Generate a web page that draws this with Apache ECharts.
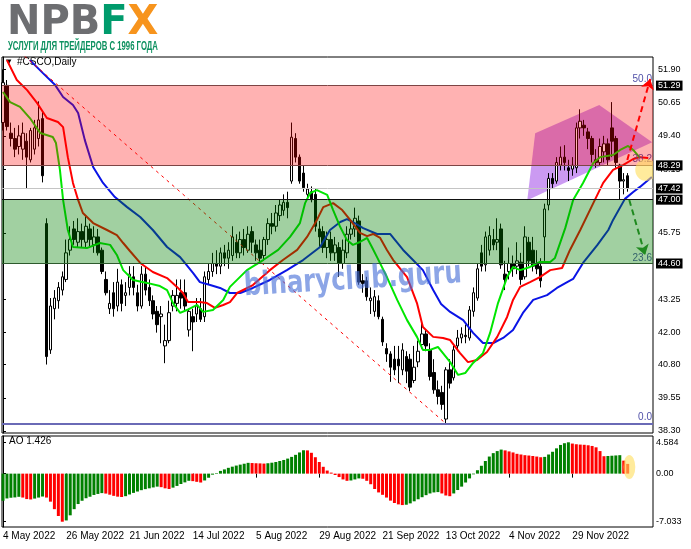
<!DOCTYPE html>
<html><head><meta charset="utf-8">
<script src="https://cdn.jsdelivr.net/npm/echarts@6/dist/echarts.min.js"></script>
<style>html,body{margin:0;padding:0;background:#fff}#c{width:691px;height:549px}</style>
</head><body><div id="c"></div>
<script>
// ---- tick labels ----
const dateTickIndex = [0,16,32,48,64,80,96,112,128,144];
const dateTickLabels = ['4 May 2022','26 May 2022','21 Jun 2022','14 Jul 2022','5 Aug 2022','29 Aug 2022','21 Sep 2022','13 Oct 2022','4 Nov 2022','29 Nov 2022'];
const priceTicks = [51.90,50.65,49.40,48.15,45.75,43.25,42.00,40.80,39.55,38.30];
const aoTicks = [4.584,0,-7.033];

// ---- candles (bar index 0 = 4 May 2022) ----
const opens = [49.9,51.3,49.5,49.3,49.0,48.9,49.2,48.5,48.9,49.3,
 50.05,46.1,41.35,42.9,43.2,43.6,44.0,45.1,45.9,45.4,
 45.8,45.4,45.9,45.3,45.6,45.1,44.0,42.9,43.5,43.0,
 43.8,43.4,43.7,44.1,43.5,43.0,44.2,43.7,43.2,42.8,
 42.6,41.5,41.7,43.0,43.1,43.5,43.5,42.1,42.6,42.7,
 42.9,42.6,44.0,44.3,44.6,44.5,45.0,44.8,44.9,45.4,
 45.0,45.5,45.1,45.8,45.3,45.1,44.9,45.5,46.1,46.0,
 46.4,46.6,46.9,47.7,49.3,48.6,48.0,47.2,47.3,47.2,
 45.9,45.8,45.2,45.5,45.0,45.2,44.6,45.0,45.7,45.9,
 46.2,43.95,43.95,43.2,42.8,43.2,42.5,41.4,41.2,41.0,
 41.0,40.6,41.1,41.0,40.2,40.9,41.55,41.95,41.35,40.5,
 39.85,39.75,38.75,40.6,40.3,41.5,41.8,41.9,41.8,42.8,
 43.3,45.0,44.55,45.1,45.5,45.4,45.9,44.2,44.3,44.6,
 44.5,44.65,44.1,45.4,45.1,44.6,44.5,45.6,46.8,47.8,
 47.7,48.3,48.6,48.2,48.15,48.2,49.7,49.8,49.55,49.3,
 48.5,48.4,48.8,49.1,49.7,49.3,48.3,47.7,47.9];
const closes = [51.4,49.75,49.3,48.9,49.4,49.5,48.6,49.6,49.7,50.0,
 47.9,41.1,43.0,43.3,43.7,44.1,45.0,45.5,45.5,45.8,
 45.5,46.0,45.5,45.6,45.0,44.3,43.5,43.1,42.9,43.9,
 43.1,43.5,44.2,43.7,43.0,44.2,43.6,43.2,42.7,42.3,
 42.7,41.7,42.75,43.4,43.4,43.3,43.0,42.8,42.4,43.0,
 42.5,44.1,44.3,44.6,44.5,45.0,44.8,45.1,45.6,45.0,
 45.5,45.2,45.7,45.4,45.0,44.8,45.5,46.1,46.0,46.5,
 46.8,46.9,46.7,49.35,48.6,47.7,47.45,47.4,47.0,46.0,
 45.6,45.2,45.5,45.0,45.3,44.6,45.1,45.7,45.9,46.3,
 43.9,43.85,43.35,43.3,43.35,42.6,41.65,41.2,40.7,40.6,
 40.75,41.35,40.55,39.95,40.7,41.3,41.95,41.5,40.35,39.85,
 39.6,39.3,40.6,40.1,41.35,41.8,41.95,41.85,42.85,43.5,
 44.4,44.5,45.6,45.65,45.3,45.5,44.55,44.0,44.6,44.4,
 44.7,44.0,45.6,44.7,44.5,44.4,43.95,46.65,47.8,47.6,
 48.4,48.6,48.4,48.1,48.3,49.7,49.95,49.7,49.3,48.7,
 48.4,49.0,49.1,48.5,49.2,48.4,47.7,47.75,47.42];
const lows = [49.6,49.6,49.0,48.6,48.7,48.5,47.4,48.4,48.7,49.0,
 47.65,40.8,41.2,42.5,42.9,43.4,43.9,44.9,45.3,45.2,
 45.2,45.2,45.2,45.0,44.9,44.2,43.4,42.7,42.6,42.8,
 42.8,43.0,43.4,43.4,42.8,42.9,43.4,43.0,42.5,42.0,
 41.6,40.85,41.6,42.8,42.8,42.9,42.8,41.85,41.3,42.4,
 42.4,42.4,43.8,44.1,44.2,44.2,44.5,44.4,44.7,44.8,
 44.8,44.9,45.0,45.0,44.7,44.6,44.7,45.3,45.7,45.8,
 46.2,46.4,46.3,47.6,48.4,47.6,47.3,47.1,46.9,45.8,
 45.2,45.0,44.8,44.7,44.7,44.1,44.4,44.8,45.5,45.6,
 43.8,43.5,43.2,42.7,42.6,42.5,41.5,40.9,40.15,40.4,
 40.1,40.4,40.1,39.8,40.1,40.7,41.4,41.3,40.2,39.7,
 39.3,39.1,38.58,39.9,40.2,41.3,41.6,41.6,41.7,42.6,
 43.2,44.3,44.3,44.9,45.1,45.1,44.4,43.6,44.0,44.1,
 44.2,43.8,44.0,44.5,44.3,44.2,43.7,44.7,46.6,47.4,
 47.6,48.1,48.1,47.7,47.9,48.0,49.3,49.4,48.9,48.4,
 48.2,48.3,48.4,48.3,48.6,48.2,47.0,47.2,47.3];
const highs = [51.9,51.5,49.9,49.7,49.8,49.9,49.5,49.7,50.0,50.7,
 50.3,46.3,43.3,43.6,43.9,44.3,45.5,46.0,46.2,46.3,
 46.1,46.4,46.1,46.0,45.9,45.2,44.3,43.6,43.9,44.4,
 44.0,43.9,44.5,44.5,43.8,44.5,44.5,44.0,43.4,43.0,
 43.0,42.3,43.2,43.6,44.0,44.0,44.0,42.9,42.9,43.3,
 43.3,44.3,44.6,45.0,45.1,45.2,45.3,45.4,46.0,45.7,
 45.8,45.9,46.0,46.0,45.5,45.5,45.6,46.3,46.5,46.8,
 47.0,47.2,47.3,49.9,49.5,48.7,48.3,47.6,47.5,47.4,
 46.2,46.0,45.8,45.8,45.6,45.4,45.5,46.0,46.2,46.7,
 46.4,44.2,44.1,43.7,43.6,43.4,42.6,41.6,41.3,41.5,
 41.5,41.6,41.3,41.2,41.5,41.7,42.4,42.1,41.6,41.0,
 40.2,40.0,40.7,41.0,41.5,42.1,42.2,42.3,43.0,43.7,
 44.6,45.3,45.8,46.0,45.9,46.3,46.1,44.7,45.2,44.9,
 45.4,45.0,46.0,45.6,45.6,45.1,44.8,46.85,48.0,48.0,
 48.6,49.0,49.05,48.5,48.6,49.9,50.4,50.0,49.7,49.4,
 48.9,49.3,49.4,49.3,50.67,49.4,48.35,48.0,48.0];

// ---- Awesome Oscillator ----
const aoValues = [-3.97,-3.63,-3.53,-3.48,-3.39,-3.50,-3.72,-3.78,-3.65,-3.50,
 -3.35,-3.50,-4.10,-5.20,-6.20,-7.033,-6.85,-6.10,-5.20,-4.45,
 -3.97,-3.60,-3.38,-3.12,-2.97,-2.85,-2.92,-3.08,-3.25,-3.37,
 -3.42,-3.30,-3.05,-2.82,-2.62,-2.42,-2.27,-2.15,-2.02,-1.90,
 -1.98,-2.15,-2.25,-2.05,-1.80,-1.52,-1.28,-1.05,-1.10,-1.20,
 -1.30,-1.00,-0.60,-0.15,0.08,0.40,0.62,0.85,1.02,1.18,
 1.32,1.45,1.58,1.55,1.52,1.50,1.47,1.52,1.60,1.70,
 1.85,2.00,2.20,2.45,2.75,3.10,3.42,3.40,3.05,2.40,
 1.70,1.00,0.45,0.15,-0.20,-0.50,-0.85,-1.05,-1.00,-0.85,
 -0.70,-0.75,-1.05,-1.55,-2.25,-2.75,-3.10,-3.50,-3.95,-4.30,
 -4.50,-4.60,-4.55,-4.35,-4.05,-3.75,-3.45,-3.15,-2.90,-2.75,
 -2.70,-2.90,-3.20,-3.30,-2.90,-2.40,-1.90,-1.30,-0.70,-0.10,
 0.50,1.15,1.85,2.50,3.00,3.30,3.52,3.40,3.25,3.10,
 2.90,2.80,2.70,2.65,2.58,2.50,2.40,2.45,2.80,3.20,
 3.70,4.20,4.45,4.584,4.40,4.30,4.25,4.22,4.15,4.05,
 3.85,3.30,2.55,2.58,2.62,2.66,2.70,1.90,1.426];

// ---- Alligator lines [bar index, price] ----
const lipsGreen = [[0,51.05],[1.8,50.67],[4.3,50.49],[6.8,50.07],[9.4,49.51],[12.6,49.36],[13.4,49.13],[14.4,48.12],[15.2,46.99],[16.4,45.86],[17.7,45.22],[21.2,45.18],[24.5,45.37],[27.1,45.30],[28.8,44.92],[30.4,44.35],[32.9,43.98],[36.4,43.87],[39.7,43.75],[41.5,43.60],[43.0,43.11],[44.8,42.74],[46.5,42.85],[49.1,43.04],[50.6,42.78],[53.1,42.85],[55.7,43.23],[57.4,43.72],[61.7,44.35],[65.8,44.73],[69.6,45.11],[72.6,45.60],[75.1,46.12],[76.4,46.87],[77.7,47.25],[79.4,47.36],[82.0,47.18],[83.5,46.61],[85.3,45.97],[87.0,45.48],[88.5,45.30],[90.3,45.41],[92.1,45.56],[93.3,45.22],[94.6,44.84],[97.1,44.09],[99.7,43.23],[102.2,42.47],[104.7,41.84],[106.2,41.35],[108.0,41.35],[110.0,41.46],[113.1,40.89],[115.1,40.41],[116.9,40.48],[118.9,40.86],[121.4,41.23],[123.2,41.99],[125.2,43.11],[127.5,44.09],[129.0,44.47],[130.8,44.35],[133.3,44.47],[135.8,44.66],[138.4,44.66],[139.6,44.81],[142.2,45.93],[144.2,46.99],[146.7,47.63],[149.3,48.38],[151.0,48.60],[154.3,48.68],[156.1,48.87],[158.1,49.02],[159.4,48.87],[161.1,48.57]];
const teethRed = [[1.0,52.25],[3.5,51.50],[6.1,51.12],[8.6,50.64],[11.1,50.07],[13.9,49.92],[15.2,49.73],[16.4,48.60],[17.7,47.63],[19.0,46.99],[20.2,46.50],[22.8,46.12],[26.3,45.86],[28.8,45.67],[30.4,45.37],[32.1,45.07],[34.7,44.62],[37.9,44.28],[41.5,44.05],[44.0,43.72],[45.5,43.49],[46.8,43.15],[49.8,43.15],[51.6,43.11],[53.6,42.93],[55.7,43.04],[57.4,43.15],[59.2,43.49],[63.2,43.79],[67.5,44.35],[70.8,44.73],[74.4,45.11],[76.9,45.60],[79.4,46.24],[81.0,46.72],[83.5,46.87],[85.8,46.61],[87.8,46.24],[90.3,45.75],[92.1,45.63],[93.6,45.71],[95.4,45.56],[97.1,45.11],[98.7,44.73],[102.2,44.09],[104.7,43.11],[106.2,42.21],[108.8,41.84],[111.3,41.80],[113.1,41.72],[115.6,41.23],[117.6,40.89],[119.9,40.97],[122.4,41.27],[125.0,41.84],[127.5,42.59],[129.0,43.23],[130.8,43.72],[133.3,43.90],[135.8,44.09],[138.4,44.35],[141.4,44.43],[143.4,45.11],[146.0,45.86],[149.3,46.87],[151.8,47.63],[154.3,48.12],[156.8,48.30],[159.4,48.53],[161.1,48.60],[163.2,48.57]];
const jawBlue = [[6.8,52.25],[10.1,51.76],[13.2,51.31],[15.2,50.86],[17.7,50.56],[19.0,50.26],[20.7,49.24],[22.8,48.23],[25.3,47.63],[28.3,47.10],[31.4,46.72],[34.7,46.35],[37.9,45.86],[41.5,45.22],[44.8,44.84],[46.0,44.62],[48.1,44.24],[49.8,43.90],[52.4,43.79],[54.9,43.68],[57.4,43.49],[60.0,43.49],[63.2,43.68],[67.5,43.98],[71.8,44.35],[75.9,44.73],[80.2,45.22],[82.7,45.86],[85.3,46.16],[87.0,46.27],[88.5,46.16],[91.1,45.93],[94.6,45.71],[97.9,45.71],[101.2,45.11],[103.7,44.73],[106.2,44.35],[108.8,43.60],[110.8,43.08],[113.1,42.78],[116.4,42.47],[118.9,41.99],[121.4,41.61],[124.0,41.61],[126.5,41.80],[129.0,42.10],[131.5,42.74],[134.1,43.23],[137.6,43.41],[140.1,43.68],[142.7,43.90],[144.2,44.02],[146.7,44.62],[150.3,45.29],[153.1,45.86],[154.3,46.24],[157.3,47.03],[159.4,47.29],[161.1,47.48],[164.1,47.85]];

// ---- levels & drawings ----
const sellZone = [48.29, 51.29];
const buyZone = [44.60, 47.00];
const bidPrice = 47.42;
const fibLevels = [['50.0',51.29],['38.2',48.29],['23.6',44.58],['0.0',38.58]];
const priceBoxes = [51.29,48.29,47.42,47.00,44.60];
const fibAnchors = [[-84,64.0],[112,38.58]];
const triangleShape = [[132.6,46.98],[134.6,49.50],[150.8,50.56],[164.2,49.16]];
const upArrow = [[157.9,48.49],[163.7,51.54]];
const downArrow = [[158.4,46.99],[162.4,44.92]];
const highlightMain = [162.7,48.12];
const highlightAO = [158.4,0.97];

const FONT = 'Liberation Sans, Arial, sans-serif';
const candleData = opens.map((o,i)=>[i,o,closes[i],lows[i],highs[i]]);
const aoData = aoValues.map((v,i)=>({value:[i,v], itemStyle:{color: (i===0 || v>=aoValues[i-1]) ? '#008000' : '#ff0000'}}));

const chart = echarts.init(document.getElementById('c'));
const lineS = (data,color)=>({type:'line',xAxisIndex:0,yAxisIndex:0,data,symbol:'none',z:3,clip:true,silent:true,
  lineStyle:{color,width:2},animation:false});

chart.setOption({
  animation:false,
  grid:[
    {left:2,top:57,width:651,height:376,show:true,borderColor:'#000',borderWidth:1,backgroundColor:'transparent'},
    {left:2,top:436,width:651,height:91,show:true,borderColor:'#000',borderWidth:1,backgroundColor:'transparent'}
  ],
  xAxis:[
    {type:'value',gridIndex:0,min:-0.25,max:164.4,show:false},
    {type:'value',gridIndex:1,min:-0.25,max:164.4,splitLine:{show:false},axisLine:{show:false},
     axisTick:{show:true,customValues:dateTickIndex,length:4,lineStyle:{color:'#000'}},
     axisLabel:{customValues:dateTickIndex,formatter:v=>{const k=dateTickIndex.indexOf(Math.round(v));return k>=0?dateTickLabels[k]:'';},
       align:'left',margin:4,color:'#000',fontSize:10,fontFamily:FONT}}
  ],
  yAxis:[
    {type:'value',gridIndex:0,position:'right',min:38.225,max:52.366,splitLine:{show:false},
     axisLine:{show:true,lineStyle:{color:'#000'}},
     axisTick:{show:true,customValues:priceTicks,length:3,lineStyle:{color:'#000'}},
     axisLabel:{customValues:priceTicks,formatter:v=>v.toFixed(2),color:'#000',fontSize:9,margin:5,fontFamily:FONT}},
    {type:'value',gridIndex:1,position:'right',min:-7.808,max:5.506,splitLine:{show:false},
     axisLine:{show:true,lineStyle:{color:'#000'}},
     axisTick:{show:true,customValues:aoTicks,length:3,lineStyle:{color:'#000'}},
     axisLabel:{customValues:aoTicks,formatter:v=>Math.abs(v)<1e-9?'0.00':v.toFixed(3),color:'#000',fontSize:9,margin:3,fontFamily:FONT}}
  ],
  graphic:[
    {type:'text',x:7,y:4,silent:true,style:{text:'{n|NPB}{f|F}{x|X}',rich:{
      n:{fill:'#6d6e71',fontSize:40,fontWeight:'bold',fontFamily:'DejaVu Sans'},
      f:{fill:'#009b6c',fontSize:40,fontWeight:'bold',fontFamily:'DejaVu Sans'},
      x:{fill:'#f7941d',fontSize:40,fontWeight:'bold',fontFamily:'DejaVu Sans'}}}},
    {type:'text',x:8,y:40.5,scaleX:0.62,silent:true,style:{text:'УСЛУГИ ДЛЯ ТРЕЙДЕРОВ С 1996 ГОДА',fill:'#0e9160',fontSize:12.5,fontWeight:'bold',fontFamily:FONT}},
    {type:'text',x:6,y:59,silent:true,style:{text:'▼',fill:'#000',fontSize:7,fontFamily:'DejaVu Sans'}},
    {type:'text',x:17,y:57.5,silent:true,style:{text:'#CSCO,Daily',fill:'#000',fontSize:10,fontFamily:FONT}},
    {type:'text',x:9,y:436.5,silent:true,style:{text:'AO 1.426',fill:'#000',fontSize:10,fontFamily:FONT}},
    {type:'text',x:244,y:287,rotation:0.06,scaleX:0.76,silent:true,z:100,style:{text:'binaryclub.guru',verticalAlign:'middle',fill:'rgba(70,110,215,0.62)',fontSize:32,fontWeight:'bold',fontFamily:'DejaVu Sans'}}
  ],
  series:[
    {type:'custom',xAxisIndex:0,yAxisIndex:0,z:1,clip:true,silent:true,data:[triangleShape[0]],
     renderItem:(p,api)=>({type:'polygon',shape:{points:triangleShape.map(q=>api.coord(q))},style:{fill:'#cb9af2'}})},
    {type:'candlestick',xAxisIndex:0,yAxisIndex:0,data:candleData,barWidth:3,z:2,silent:true,
     itemStyle:{color:'#ffffff',color0:'#000000',borderColor:'#000000',borderColor0:'#000000',borderWidth:1}},
    lineS(jawBlue,'#0a14e6'),
    lineS(teethRed,'#ff0000'),
    lineS(lipsGreen,'#00e600'),
    {type:'line',xAxisIndex:0,yAxisIndex:0,data:fibAnchors,symbol:'none',z:3,clip:true,silent:true,
     lineStyle:{color:'#ff0000',width:1,type:[3,4]},
     markLine:{silent:true,symbol:'none',z:4,animation:false,
       data:fibLevels.map(f=>({yAxis:f[1],lineStyle:{color:'transparent'},
         label:{show:true,position:'insideEndTop',formatter:f[0],color:'#5050a8',fontSize:10,fontFamily:FONT,distance:[1,1]}}))}},
    {type:'line',xAxisIndex:0,yAxisIndex:0,data:[],silent:true,
     markArea:{silent:true,z:6,animation:false,data:[
       [{yAxis:sellZone[0],itemStyle:{color:'rgba(255,0,0,0.30)'}},{yAxis:sellZone[1]}],
       [{yAxis:buyZone[0],itemStyle:{color:'rgba(0,128,0,0.37)'}},{yAxis:buyZone[1]}]]},
     markLine:{silent:true,symbol:'none',z:7,animation:false,data:[
       {yAxis:sellZone[1],lineStyle:{color:'#7d4545',width:1,type:'solid'},label:{show:false}},
       {yAxis:sellZone[0],lineStyle:{color:'#7d4545',width:1,type:'solid'},label:{show:false}},
       {yAxis:bidPrice,lineStyle:{color:'#c4c4c4',width:1,type:'solid'},label:{show:false}},
       {yAxis:buyZone[1],lineStyle:{color:'#111111',width:1,type:'solid'},label:{show:false}},
       {yAxis:buyZone[0],lineStyle:{color:'#2d5a2d',width:1,type:'solid'},label:{show:false}},
       {yAxis:fibLevels[3][1],lineStyle:{color:'#6a6ab6',width:2,type:'solid'},label:{show:false}}
     ]}},
    {type:'line',xAxisIndex:0,yAxisIndex:0,data:[],silent:true,
     markLine:{silent:true,symbol:'none',z:9,animation:false,
       data:priceBoxes.map(v=>({yAxis:v,lineStyle:{color:'transparent'},
         label:{show:true,position:'end',formatter:v.toFixed(2),backgroundColor:'#000',color:'#fff',padding:[1,2,0,2],fontSize:9,fontFamily:FONT,distance:3}}))}},
    {type:'line',xAxisIndex:0,yAxisIndex:0,data:[],silent:true,
     markLine:{silent:true,z:7,animation:false,symbol:['none','arrow'],symbolSize:10,
       data:[
         [{coord:upArrow[0],lineStyle:{color:'#ff0000',width:2,type:[6,4]},itemStyle:{color:'#ff0000'}},{coord:upArrow[1]}],
         [{coord:downArrow[0],lineStyle:{color:'#1f8a1f',width:2,type:[6,4]},itemStyle:{color:'#1f8a1f'}},{coord:downArrow[1]}]
       ],label:{show:false}}},
    {type:'custom',xAxisIndex:0,yAxisIndex:0,z:8,clip:true,silent:true,data:[highlightMain],
     renderItem:(p,api)=>{const c=api.coord(highlightMain);return {type:'circle',shape:{cx:c[0],cy:c[1],r:11},style:{fill:'rgba(255,222,90,0.6)'}};}},
    {type:'bar',xAxisIndex:1,yAxisIndex:1,data:aoData,barWidth:3,silent:true,z:2},
    {type:'custom',xAxisIndex:1,yAxisIndex:1,z:8,clip:true,silent:true,data:[highlightAO],
     renderItem:(p,api)=>{const c=api.coord(highlightAO);return {type:'circle',x:c[0],y:c[1],scaleX:0.5,shape:{cx:0,cy:0,r:12},style:{fill:'rgba(255,222,90,0.6)'}};}}
  ]
});
</script></body></html>
